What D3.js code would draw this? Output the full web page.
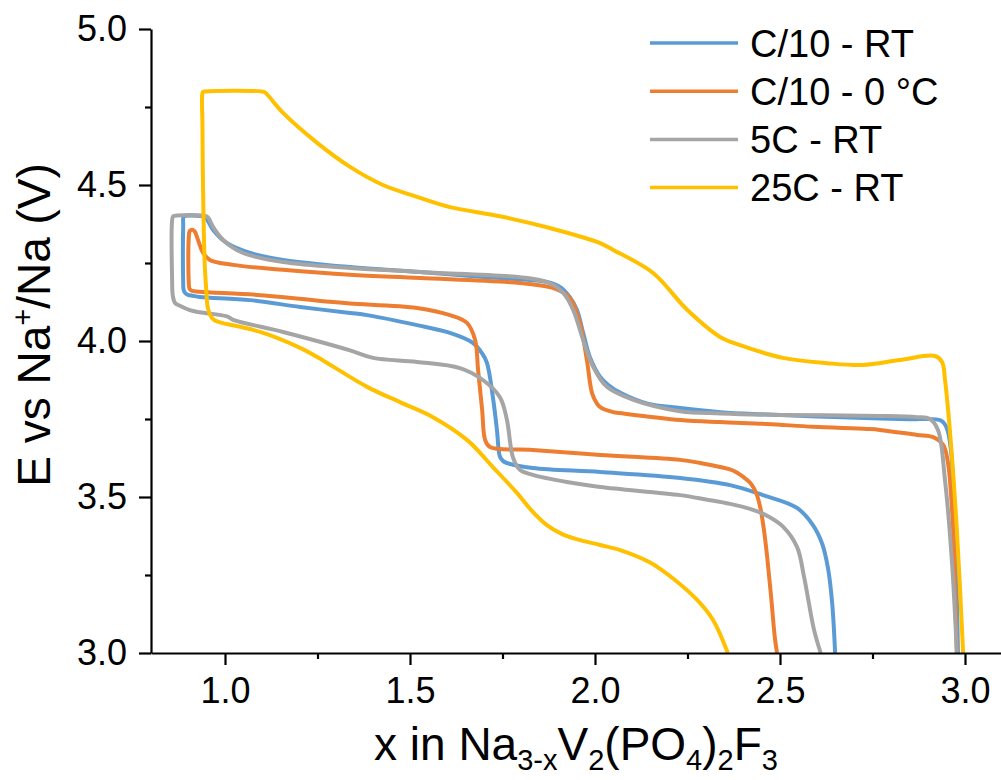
<!DOCTYPE html>
<html>
<head>
<meta charset="utf-8">
<script src="https://cdn.jsdelivr.net/npm/d3@7"></script>
<style>
  html, body { margin: 0; padding: 0; background: #fff; }
  svg { display: block; font-family: "Liberation Sans", Arial, sans-serif; }
</style>
</head>
<body>
<svg id="chart" width="1001" height="780"></svg>
<script>
// ---------- data ----------
const seriesNames = ["C/10 - RT", "C/10 - 0 °C", "5C - RT", "25C - RT"];
const seriesColors = ["#5B9BD5", "#ED7D31", "#A5A5A5", "#FFC000"];

const blueX = [2.981, 2.973, 2.962, 2.951, 2.935, 2.85, 2.77, 2.6, 2.45, 2.34, 2.23, 2.14, 2.07, 2.035, 2.014, 1.986, 1.968, 1.951, 1.932, 1.905, 1.87, 1.70, 1.527, 1.338, 1.157, 1.068, 1.005, 0.968, 0.951, 0.945, 0.935, 0.893, 0.888, 0.887, 0.887, 0.888, 0.893, 0.90, 0.913, 0.932, 1.068, 1.203, 1.338, 1.384, 1.519, 1.608, 1.670, 1.695, 1.708, 1.724, 1.735, 1.743, 1.752, 1.762, 1.832, 2.014, 2.230, 2.365, 2.454, 2.546, 2.589, 2.614, 2.630, 2.641, 2.649];
const blueY = [3.0, 3.39, 3.65, 3.72, 3.745, 3.749, 3.752, 3.758, 3.765, 3.772, 3.785, 3.80, 3.833, 3.86, 3.885, 3.949, 4.026, 4.10, 4.14, 4.173, 4.189, 4.205, 4.221, 4.237, 4.26, 4.282, 4.314, 4.356, 4.390, 4.399, 4.401, 4.401, 4.398, 4.37, 4.19, 4.165, 4.153, 4.148, 4.145, 4.141, 4.131, 4.109, 4.09, 4.083, 4.051, 4.026, 3.994, 3.96, 3.93, 3.82, 3.715, 3.63, 3.615, 3.609, 3.593, 3.58, 3.561, 3.538, 3.506, 3.465, 3.41, 3.35, 3.27, 3.16, 3.0];

const orangeX = [2.978, 2.973, 2.968, 2.954, 2.941, 2.914, 2.870, 2.770, 2.735, 2.589, 2.465, 2.338, 2.230, 2.068, 2.049, 2.014, 2.005, 1.992, 1.978, 1.959, 1.932, 1.886, 1.797, 1.527, 1.338, 1.157, 1.022, 0.959, 0.941, 0.927, 0.919, 0.9135, 0.905, 0.902, 0.902, 0.904, 0.910, 0.93, 1.095, 1.292, 1.338, 1.519, 1.608, 1.654, 1.676, 1.684, 1.695, 1.703, 1.716, 1.832, 2.014, 2.230, 2.284, 2.338, 2.373, 2.40, 2.42, 2.435, 2.446, 2.456, 2.466, 2.476, 2.486, 2.492];
const orangeY = [3.0, 3.2, 3.394, 3.609, 3.667, 3.692, 3.699, 3.715, 3.718, 3.725, 3.734, 3.74, 3.747, 3.769, 3.772, 3.788, 3.80, 3.833, 3.939, 4.058, 4.138, 4.17, 4.186, 4.202, 4.212, 4.228, 4.244, 4.26, 4.282, 4.324, 4.35, 4.356, 4.353, 4.33, 4.19, 4.168, 4.161, 4.158, 4.147, 4.125, 4.12, 4.106, 4.083, 4.058, 4.003, 3.907, 3.779, 3.683, 3.66, 3.651, 3.635, 3.619, 3.609, 3.596, 3.585, 3.565, 3.545, 3.515, 3.47, 3.40, 3.30, 3.18, 3.05, 3.0];

const grayX = [2.978, 2.965, 2.946, 2.927, 2.905, 2.870, 2.770, 2.50, 2.34, 2.23, 2.10, 2.032, 1.995, 1.968, 1.941, 1.914, 1.870, 1.527, 1.338, 1.157, 1.049, 0.995, 0.968, 0.956, 0.950, 0.940, 0.870, 0.860, 0.857, 0.857, 0.859, 0.865, 0.878, 0.905, 0.932, 1.005, 1.022, 1.157, 1.338, 1.400, 1.519, 1.635, 1.697, 1.743, 1.762, 1.778, 1.797, 1.832, 1.924, 2.014, 2.230, 2.30, 2.365, 2.419, 2.465, 2.508, 2.546, 2.565, 2.592, 2.61];
const grayY = [3.0, 3.288, 3.554, 3.715, 3.75, 3.756, 3.76, 3.763, 3.768, 3.775, 3.813, 3.853, 3.917, 4.003, 4.10, 4.154, 4.189, 4.221, 4.234, 4.253, 4.282, 4.324, 4.365, 4.393, 4.400, 4.402, 4.402, 4.400, 4.385, 4.20, 4.145, 4.122, 4.113, 4.099, 4.092, 4.079, 4.068, 4.029, 3.97, 3.946, 3.933, 3.913, 3.875, 3.82, 3.747, 3.628, 3.587, 3.571, 3.548, 3.532, 3.506, 3.492, 3.478, 3.462, 3.44, 3.405, 3.34, 3.244, 3.074, 3.0];

const yellowX = [2.995, 2.978, 2.959, 2.946, 2.938, 2.919, 2.824, 2.724, 2.627, 2.508, 2.392, 2.338, 2.249, 2.157, 2.049, 2.014, 1.878, 1.743, 1.608, 1.519, 1.427, 1.338, 1.249, 1.157, 1.12, 1.108, 1.10, 0.946, 0.940, 0.938, 0.939, 0.940, 0.942, 0.945, 0.949, 0.953, 0.960, 0.970, 0.978, 0.992, 1.095, 1.203, 1.249, 1.384, 1.473, 1.562, 1.654, 1.724, 1.789, 1.83, 1.87, 1.91, 1.95, 2.014, 2.068, 2.149, 2.216, 2.276, 2.319, 2.359];
const yellowY = [3.0, 3.394, 3.715, 3.875, 3.933, 3.952, 3.939, 3.923, 3.929, 3.946, 3.987, 4.013, 4.10, 4.218, 4.292, 4.314, 4.362, 4.40, 4.429, 4.462, 4.5, 4.558, 4.635, 4.731, 4.782, 4.797, 4.80, 4.80, 4.798, 4.78, 4.70, 4.55, 4.40, 4.25, 4.17, 4.11, 4.083, 4.068, 4.063, 4.058, 4.029, 3.978, 3.949, 3.853, 3.804, 3.756, 3.683, 3.596, 3.513, 3.455, 3.41, 3.382, 3.365, 3.346, 3.33, 3.29, 3.234, 3.17, 3.106, 3.0];

const xMajorTicks = [1.0, 1.5, 2.0, 2.5, 3.0];
const xMinorTicks = [1.25, 1.75, 2.25, 2.75];
const yMajorTicks = [3.0, 3.5, 4.0, 4.5, 5.0];
const yMinorTicks = [3.25, 3.75, 4.25, 4.75];

// ---------- chart ----------
const svg = d3.select("#chart");
const x = d3.scaleLinear().domain([0.8, 3.1]).range([151, 1002]);
const y = d3.scaleLinear().domain([3.0, 5.0]).range([653, 29]);

const series = [
  {name: seriesNames[0], color: seriesColors[0], xs: blueX, ys: blueY},
  {name: seriesNames[1], color: seriesColors[1], xs: orangeX, ys: orangeY},
  {name: seriesNames[2], color: seriesColors[2], xs: grayX, ys: grayY},
  {name: seriesNames[3], color: seriesColors[3], xs: yellowX, ys: yellowY}
];

const line = d3.line()
  .x(d => x(d[0]))
  .y(d => y(d[1]))
  .curve(d3.curveCatmullRom.alpha(0.5));

svg.append("g").selectAll("path")
  .data(series)
  .join("path")
  .attr("d", s => line(s.xs.map((v, i) => [v, s.ys[i]])))
  .attr("fill", "none")
  .attr("stroke", s => s.color)
  .attr("stroke-width", 4)
  .attr("stroke-linejoin", "round")
  .attr("stroke-linecap", "butt");

// axes
const fmt = d3.format(".1f");
svg.append("g").attr("transform", "translate(0,653)")
  .call(d3.axisBottom(x).tickValues(xMajorTicks).tickFormat(fmt).tickSize(12).tickPadding(12).tickSizeOuter(0));
svg.append("g").attr("transform", "translate(0,653)")
  .call(d3.axisBottom(x).tickValues(xMinorTicks).tickFormat("").tickSize(6).tickSizeOuter(0))
  .select(".domain").remove();
svg.append("g").attr("transform", "translate(151,0)")
  .call(d3.axisLeft(y).tickValues(yMajorTicks).tickFormat(fmt).tickSize(12).tickPadding(12).tickSizeOuter(0));
svg.append("g").attr("transform", "translate(151,0)")
  .call(d3.axisLeft(y).tickValues(yMinorTicks).tickFormat("").tickSize(6).tickSizeOuter(0))
  .select(".domain").remove();

svg.selectAll(".domain").attr("stroke", "#000").attr("stroke-width", 2.2);
svg.selectAll(".tick line").attr("stroke", "#000").attr("stroke-width", 2.2);
svg.selectAll(".tick text")
  .attr("font-family", "'Liberation Sans', Arial, sans-serif")
  .attr("font-size", 36)
  .attr("fill", "#000");

// axis titles
const xt = svg.append("text")
  .attr("x", 576).attr("y", 760)
  .attr("text-anchor", "middle")
  .attr("font-size", 46)
  .attr("fill", "#000");
const parts = [["x in Na", false], ["3-x", true], ["V", false], ["2", true], ["(PO", false], ["4", true], [")", false], ["2", true], ["F", false], ["3", true]];
let shifted = false;
parts.forEach(([t, sub]) => {
  const ts = xt.append("tspan").text(t);
  if (sub && !shifted) { ts.attr("dy", 10); shifted = true; }
  else if (!sub && shifted) { ts.attr("dy", -10); shifted = false; }
  if (sub) ts.attr("font-size", 29);
});

const yt = svg.append("text")
  .attr("transform", "translate(50,325) rotate(-90)")
  .attr("text-anchor", "middle")
  .attr("font-size", 46)
  .attr("fill", "#000");
yt.append("tspan").text("E vs Na");
yt.append("tspan").text("+").attr("font-size", 29).attr("dy", -17);
yt.append("tspan").text("/Na (V)").attr("dy", 17);

// legend
const legend = svg.append("g");
series.forEach((s, i) => {
  const ly = 43 + i * 48.2;
  legend.append("line")
    .attr("x1", 650).attr("x2", 738)
    .attr("y1", ly).attr("y2", ly)
    .attr("stroke", s.color).attr("stroke-width", 3.5);
  legend.append("text")
    .attr("x", 750).attr("y", ly)
    .attr("dy", "0.36em")
    .attr("font-size", 38)
    .attr("fill", "#000")
    .text(s.name);
});
</script>
</body>
</html>
